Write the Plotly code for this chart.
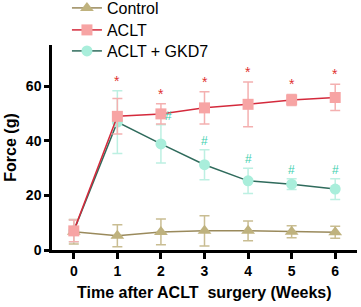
import plotly.graph_objects as go

weeks = [0, 1, 2, 3, 4, 5, 6]
tick_labels = ["0", "1", "2", "3", "4", "5", "6"]

control_mean = [6.7, 5.2, 6.6, 7.0, 7.0, 6.7, 6.5]
control_err = [4.5, 4.0, 4.7, 5.5, 3.6, 2.2, 2.2]

aclt_mean = [7.0, 48.9, 49.8, 52.0, 53.3, 54.9, 55.8]
aclt_err = [4.0, 6.5, 3.7, 5.9, 8.2, 2.0, 4.8]

gkd_mean = [7.0, 46.8, 38.8, 31.2, 25.3, 24.1, 22.3]
gkd_err = [4.0, 11.5, 7.0, 5.5, 4.6, 2.0, 3.8]

star_weeks = [1, 2, 3, 4, 5, 6]
star_y = [58.3, 53.5, 57.9, 61.5, 56.9, 60.6]
hash_weeks = [2, 3, 4, 5, 6]
hash_y = [45.8, 36.7, 29.9, 26.1, 26.1]

FONT = "Liberation Sans, Arial, sans-serif"

fig = go.Figure()

fig.add_trace(go.Scatter(
    x=weeks, y=control_mean, name="Control", mode="lines+markers",
    line=dict(color="#9a8a5c", width=1.5),
    marker=dict(symbol="triangle-up", size=12, color="#bfb27e"),
    error_y=dict(type="data", array=control_err, color="#c9bd92", thickness=1.5, width=5),
    legend="legend",
))
fig.add_trace(go.Scatter(
    x=weeks, y=gkd_mean, name="ACLT + GKD7", mode="lines+markers",
    line=dict(color="#2f6b5c", width=1.5),
    marker=dict(symbol="circle", size=11, color="#a9eedb"),
    error_y=dict(type="data", array=gkd_err, color="#bdf0e2", thickness=1.5, width=5),
    legend="legend3",
))
fig.add_trace(go.Scatter(
    x=weeks, y=aclt_mean, name="ACLT", mode="lines+markers",
    line=dict(color="#d42a3c", width=1.5),
    marker=dict(symbol="square", size=11, color="#f7a4a4"),
    error_y=dict(type="data", array=aclt_err, color="#f4b0b0", thickness=1.5, width=5),
    legend="legend2",
))

for w, yv in zip(star_weeks, star_y):
    fig.add_annotation(x=w, y=yv, text="*", showarrow=False, yanchor="bottom",
                       yshift=0, font=dict(family=FONT, size=14, color="#e0312f"))
for w, yv in zip(hash_weeks, hash_y):
    fig.add_annotation(x=w, y=yv, text="#", showarrow=False, yanchor="bottom",
                       xshift=8 if w == 2 else 0, yshift=0,
                       font=dict(family=FONT, size=12, color="#3ccfae"))

# axis titles
fig.add_annotation(xref="paper", yref="paper", x=0.5, y=-0.17, yanchor="middle",
                   text="<b>Time after ACLT  surgery (Weeks)</b>", showarrow=False,
                   font=dict(family=FONT, size=16, color="black"))
fig.add_annotation(xref="paper", yref="y domain", x=-0.137, y=0.5, xanchor="center",
                   text="<b>Force (g)</b>", showarrow=False, textangle=-90,
                   font=dict(family=FONT, size=16, color="black"))

def leg(ypix):
    return dict(x=0.049, xanchor="left", y=(250 - ypix) / 250, yanchor="middle",
                font=dict(size=16, family=FONT), bgcolor="rgba(0,0,0,0)",
                itemwidth=30)

fig.update_layout(
    width=361, height=307,
    margin=dict(l=52, r=4, t=0, b=57, autoexpand=False),
    plot_bgcolor="white", paper_bgcolor="white",
    font=dict(family=FONT, color="black"),
    showlegend=True,
    legend=leg(8), legend2=leg(30), legend3=leg(51),
    xaxis=dict(range=[-0.5, 6.5], tickvals=weeks, ticktext=tick_labels,
               showline=True, linecolor="black", linewidth=2.5,
               ticks="outside", ticklen=6, tickwidth=2.5, tickcolor="black",
               showgrid=False, zeroline=False, automargin=False,
               tickfont=dict(size=14, family=FONT, weight="bold")),
    yaxis=dict(range=[0, 75], tickvals=[0, 20, 40, 60], domain=[0, 0.82],
               showline=True, linecolor="black", linewidth=2.5,
               ticks="outside", ticklen=5, tickwidth=2.5, tickcolor="black",
               showgrid=False, zeroline=False, automargin=False,
               tickfont=dict(size=14, family=FONT, weight="bold")),
)

fig.write_html("out.html", config={"displayModeBar": False},
               post_script="document.body.style.margin='0';document.body.style.padding='0';")
